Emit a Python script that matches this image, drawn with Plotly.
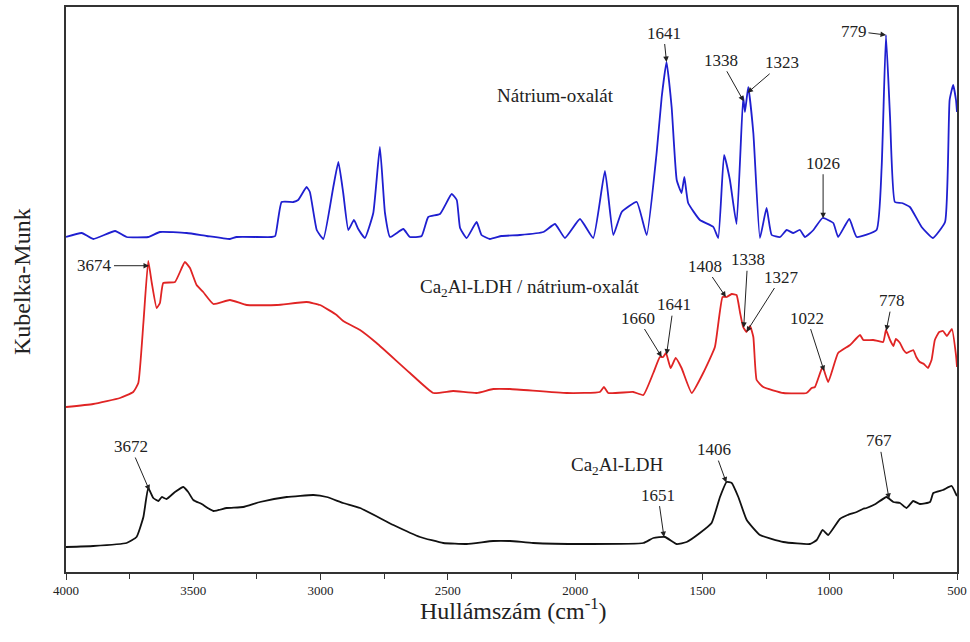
import numpy as np
import plotly.graph_objects as go

# ---------------- data (wavenumber in cm-1, Kubelka-Munk in arbitrary, offset units) ----
oxalate_wn = [4000, 3938, 3893, 3807, 3762, 3677, 3631, 3526, 3447, 3356, 3330, 3192, 3178,
              3153, 3107, 3088, 3055, 3042, 3015, 2989, 2950, 2930, 2911, 2891, 2869, 2852,
              2826, 2793, 2767, 2747, 2727, 2675, 2649, 2603, 2577, 2531, 2485, 2465, 2452,
              2426, 2387, 2368, 2335, 2289, 2217, 2125, 2079, 2040, 1981, 1929, 1883, 1850,
              1817, 1758, 1719, 1680, 1660, 1641, 1621, 1601, 1582, 1571, 1556, 1510, 1457,
              1438, 1415, 1392, 1366, 1340, 1333, 1320, 1300, 1274, 1248, 1228, 1195, 1169,
              1143, 1117, 1097, 1064, 1028, 986, 967, 923, 894, 816, 796, 779, 763, 744, 717,
              685, 639, 595, 547, 529, 515, 504, 500]
oxalate_km = [335, 339, 333, 341, 335, 335, 340, 339, 336, 333, 335, 335, 336,
              370, 370, 372, 385, 380, 342, 333, 385, 410, 379, 342, 352, 343,
              334, 359, 425, 359, 335, 343, 335, 336, 355, 358, 378, 372, 344,
              334, 350, 337, 333, 336, 337, 340, 348, 334, 353, 334, 401, 337,
              360, 370, 337, 419, 475, 510, 465, 392, 379, 395, 369, 352, 345,
              334, 417, 392, 348, 475, 460, 485, 439, 334, 364, 337, 335, 342,
              339, 342, 335, 342, 354, 349, 335, 353, 335, 342, 405, 537, 455, 370, 369,
              365, 345, 334, 350, 472, 487, 472, 460]

ldh_ox_wn = [4000, 3893, 3788, 3736, 3716, 3696, 3677, 3663, 3644, 3631, 3618, 3572, 3533,
             3513, 3487, 3461, 3421, 3356, 3290, 3172, 3055, 3002, 2937, 2911, 2845, 2780,
             2649, 2557, 2479, 2387, 2322, 2256, 2033, 1903, 1887, 1870, 1772, 1732, 1693,
             1667, 1654, 1643, 1625, 1605, 1582, 1542, 1497, 1451, 1421, 1405, 1385, 1366,
             1352, 1340, 1327, 1313, 1300, 1287, 1261, 1182, 1091, 1071, 1058, 1028, 1006,
             967, 920, 881, 868, 829, 790, 779, 763, 750, 740, 724, 710, 698, 672, 660, 646,
             630, 614, 600, 587, 570, 555, 540, 529, 520, 504, 500]
ldh_ox_km = [165, 168, 174, 180, 189, 249, 311, 289, 264, 269, 289, 290, 310,
             304, 287, 280, 268, 272, 267, 267, 270, 267, 257, 251, 242, 229,
             199, 179, 181, 179, 183, 183, 179, 180, 185, 179, 180, 177, 199,
             215, 215, 219, 204, 214, 204, 179, 199, 225, 275, 275, 278, 277,
             259, 245, 240, 246, 235, 192, 185, 179, 179, 184, 185, 205, 190,
             219, 227, 237, 232, 232, 230, 242, 232, 226, 233, 229, 222, 219, 222, 215, 210,
             208, 204, 212, 232, 240, 241, 236, 240, 243, 217, 205]

ldh_wn = [4000, 3893, 3762, 3723, 3696, 3677, 3657, 3637, 3624, 3605, 3572, 3539, 3520,
          3500, 3467, 3421, 3369, 3304, 3238, 3133, 3028, 2976, 2911, 2845, 2714, 2609,
          2518, 2426, 2322, 2256, 2165, 1968, 1732, 1693, 1647, 1601, 1562, 1510, 1464,
          1431, 1405, 1385, 1359, 1326, 1274, 1182, 1078, 1051, 1028, 1006, 960, 930, 894,
          870, 855, 820, 777, 750, 724, 698, 672, 646, 606, 593, 555, 521, 504, 500]
ldh_km = [25, 26, 29, 35, 55, 84, 74, 71, 75, 73, 80, 85, 80,
          72, 68, 61, 64, 65, 70, 75, 77, 75, 69, 64, 47, 35,
          29, 28, 31, 31, 29, 28, 29, 34, 35, 28, 30, 39, 49,
          75, 90, 89, 75, 52, 37, 30, 28, 32, 42, 37, 53, 57, 60,
          63, 64, 68, 75, 70, 69, 64, 71, 68, 70, 79, 82, 86, 78, 76]

x_ticks = [4000, 3500, 3000, 2500, 2000, 1500, 1000, 500]

# peak labels per series
oxalate_peaks = ["1641", "1338", "1323", "1026", "779"]
ldh_ox_peaks = ["3674", "1660", "1641", "1408", "1338", "1327", "1022", "778"]
ldh_peaks = ["3672", "1651", "1406", "767"]

# ---------------- figure ----------------
SERIF = "Liberation Serif, Times New Roman, serif"
fig = go.Figure()
fig.add_trace(go.Scatter(x=oxalate_wn, y=oxalate_km, mode="lines",
                         line=dict(color="#1f1fd0", width=1.8, shape="spline", smoothing=0.4)))
fig.add_trace(go.Scatter(x=ldh_ox_wn, y=ldh_ox_km, mode="lines",
                         line=dict(color="#e02424", width=1.8, shape="spline", smoothing=0.4)))
fig.add_trace(go.Scatter(x=ldh_wn, y=ldh_km, mode="lines",
                         line=dict(color="#111111", width=1.8, shape="spline", smoothing=0.4)))


def tip(wn_list, km_list, w):
    return float(np.interp(w, wn_list[::-1], km_list[::-1]))


offsets = {
    "ox": {"1641": (-3, -29), "1338": (-23, -41), "1323": (35, -30), "1026": (0, -55), "779": (-32, -4)},
    "lo": {"3674": (-54, 0), "1660": (-24, -39), "1641": (7, -50), "1408": (-21, -31),
           "1338": (4, -68), "1327": (35, -55), "1022": (-17, -53), "778": (6, -30)},
    "ld": {"3672": (-19, -44), "1651": (-6, -42), "1406": (-12, -33), "767": (-10, -58)},
}

for key, peaks, wn, km in (("ox", oxalate_peaks, oxalate_wn, oxalate_km),
                           ("lo", ldh_ox_peaks, ldh_ox_wn, ldh_ox_km),
                           ("ld", ldh_peaks, ldh_wn, ldh_km)):
    for lab in peaks:
        w = float(lab)
        ax, ay = offsets[key][lab]
        fig.add_annotation(x=w, y=tip(wn, km, w), text=lab, showarrow=True,
                           ax=ax, ay=ay, arrowhead=2, arrowsize=1.1, arrowwidth=1,
                           arrowcolor="#222222", standoff=0, startstandoff=0,
                           font=dict(family=SERIF, size=17, color="#222222"))

for txt, w, y in (("Nátrium-oxalát", 2315, 477),
                  ("Ca<sub>2</sub>Al-LDH / nátrium-oxalát", 2617, 284),
                  ("Ca<sub>2</sub>Al-LDH", 2024, 106)):
    fig.add_annotation(x=w, y=y, text=txt, showarrow=False, xanchor="left", yanchor="middle",
                       font=dict(family=SERIF, size=19, color="#222222"))

# axis titles
fig.add_annotation(xref="paper", yref="paper", x=0.5017, y=-0.0655, text="Hullámszám (cm<sup>-1</sup>)",
                   showarrow=False, xanchor="center", yanchor="middle",
                   font=dict(family=SERIF, size=24, color="#222222"))
fig.add_annotation(xref="paper", yref="paper", x=-0.0494, y=0.515, text="Kubelka-Munk",
                   showarrow=False, xanchor="center", yanchor="middle", textangle=-90,
                   font=dict(family=SERIF, size=24, color="#222222"))

fig.update_layout(
    width=970, height=642,
    margin=dict(l=66, r=13, t=7, b=70),
    paper_bgcolor="white", plot_bgcolor="white",
    showlegend=False,
    font=dict(family=SERIF, color="#222222"),
    xaxis=dict(range=[4000, 500], tickvals=x_ticks, ticktext=[str(v) for v in x_ticks],
               showline=True, linecolor="#333333", linewidth=1.5, mirror=True,
               ticks="outside", ticklen=6, tickwidth=1.2, tickcolor="#333333",
               minor=dict(dtick=250, ticks="outside", ticklen=5, tickwidth=1.2, tickcolor="#333333"),
               showgrid=False, zeroline=False, automargin=False,
               tickfont=dict(family=SERIF, size=13, color="#222222")),
    yaxis=dict(range=[0, 565], showticklabels=False, ticks="",
               showline=True, linecolor="#333333", linewidth=1.5, mirror=True,
               showgrid=False, zeroline=False, automargin=False),
)

fig.write_html("out.html", config={"displayModeBar": False},
               post_script="document.body.style.margin='0';document.body.style.overflow='hidden';")
